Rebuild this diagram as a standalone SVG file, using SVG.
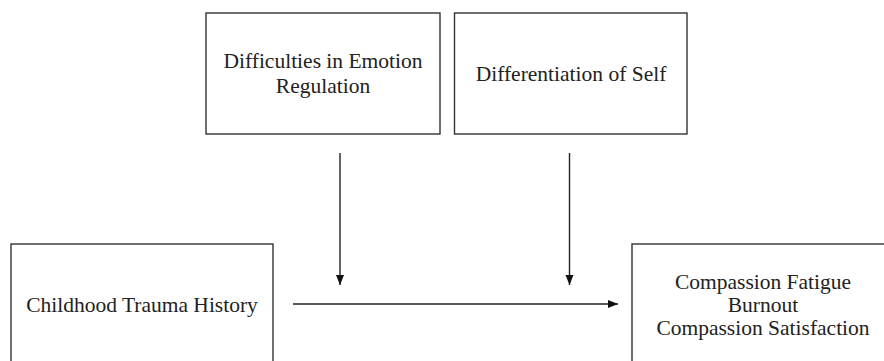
<svg xmlns="http://www.w3.org/2000/svg" width="884" height="361" viewBox="0 0 884 361">
<style>
.box{fill:#fff;stroke:#333;stroke-width:1.4}
.conn{stroke:#222;stroke-width:1.4;fill:none}
</style>
<defs>
<marker id="ah" markerUnits="userSpaceOnUse" markerWidth="10" markerHeight="10" viewBox="0 0 10 10" refX="10" refY="5" orient="auto">
<path d="M0,1 L10,5 L0,9 Z" fill="#111"/>
</marker>
</defs>
<rect width="884" height="361" fill="#fff"/>
<g font-family="Liberation Serif, Times New Roman, serif" font-size="21.5" fill="#222" text-anchor="middle">
<g id="node-emotion">
<rect class="box" x="206" y="13" width="234" height="121"/>
<text x="323" y="68">Difficulties in Emotion</text>
<text x="323" y="93">Regulation</text>
</g>
<g id="node-self">
<rect class="box" x="454.5" y="13" width="232.5" height="121"/>
<text x="571" y="81">Differentiation of Self</text>
</g>
<g id="node-trauma">
<rect class="box" x="11" y="244" width="262" height="124"/>
<text x="142" y="312">Childhood Trauma History</text>
</g>
<g id="node-outcomes">
<rect class="box" x="632" y="244" width="262" height="124"/>
<text x="763" y="289">Compassion Fatigue</text>
<text x="763" y="312">Burnout</text>
<text x="763" y="335">Compassion Satisfaction</text>
</g>
</g>
<g id="connectors">
<line class="conn" x1="340" y1="153" x2="340" y2="285" marker-end="url(#ah)"/>
<line class="conn" x1="569.5" y1="153" x2="569.5" y2="285" marker-end="url(#ah)"/>
<line class="conn" x1="293" y1="304" x2="618" y2="304" marker-end="url(#ah)"/>
</g>
</svg>
